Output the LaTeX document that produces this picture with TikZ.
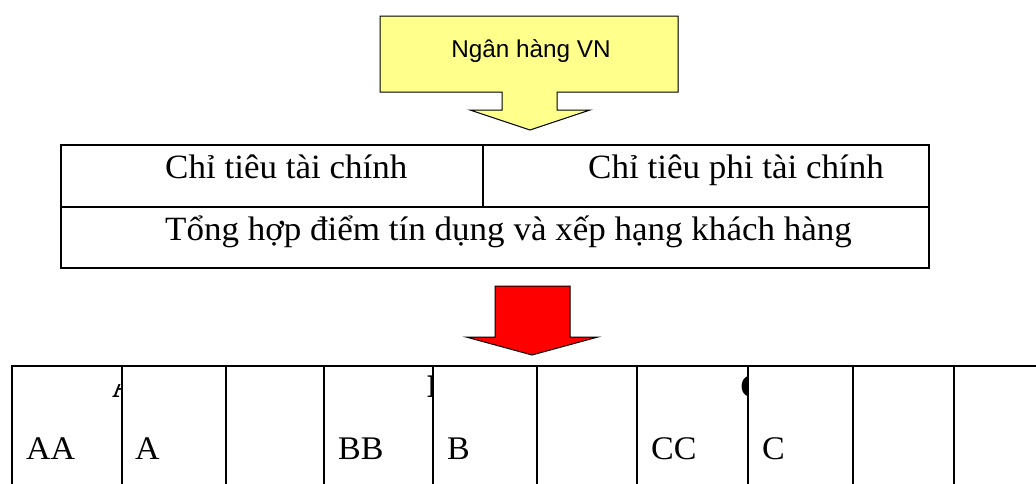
\documentclass[tikz,border=0pt]{standalone}
\usepackage{fontspec}
\newfontfamily\tnr{Liberation Serif}[FakeStretch=1.03]
\newfontfamily\arl{Liberation Sans}
\definecolor{paleyellow}{RGB}{255,255,140}
\begin{document}
\begin{tikzpicture}[x=1pt,y=-1pt,
  gridline/.style={line width=2pt,line cap=rect},
  midtxt/.style={anchor=base west,inner sep=0pt,font=\tnr\fontsize{34}{36}\selectfont},
  lowtxt/.style={anchor=base west,inner sep=0pt,font=\tnr\fontsize{33}{35}\selectfont},
  hdtxt/.style={anchor=base west,inner sep=0pt,font=\tnr\bfseries\fontsize{33}{35}\selectfont},
  blockarrow/.style={draw=black,line width=1pt,line join=miter}]
\useasboundingbox (0,0) rectangle (1036,483);
% yellow block arrow
\draw[blockarrow,fill=paleyellow] (380,16) -- (678,16) -- (678,92) -- (557,92) -- (557,110)
  -- (590,110) -- (530,130) -- (470,110) -- (502,110) -- (502,92) -- (380,92) -- cycle;
\draw[line width=1.5pt,black!70] (678.5,17) -- (678.5,92);
\node[anchor=base,inner sep=0pt,font=\arl\fontsize{24.3}{26}\selectfont] (bank) at (531,57) {Ngân hàng VN};
% middle table
\coordinate (m1) at (61,145);
\coordinate (m2) at (929,268);
\draw[gridline] (m1) rectangle (m2);
\draw[gridline] (61,207) -- (929,207);
\draw[gridline] (483,145) -- (483,207);
\node[midtxt] (fin) at (165,178) {Chỉ tiêu tài chính};
\node[midtxt] (nonfin) at (588,178) {Chỉ tiêu phi tài chính};
\node[midtxt] (sum) at (165,240) {Tổng hợp điểm tín dụng và xếp hạng khách hàng};
% red block arrow
\draw[blockarrow,fill=red] (495,286) -- (570,286) -- (570,337) -- (598,337) -- (532,355)
  -- (466,337) -- (495,337) -- cycle;
% bottom table
\draw[gridline] (12,366) -- (1040,366);
\foreach \xx in {12,122,226,324,433,537,637,748,853,954}
  \draw[gridline] (\xx,366) -- (\xx,490);
\begin{scope}
  \clip (12,384) rectangle (121,398);
  \node[hdtxt] (hA) at (112,397) {A};
\end{scope}
\begin{scope}
  \clip (324,367) rectangle (432,398);
  \node[hdtxt] (hB) at (427,397) {B};
\end{scope}
\begin{scope}
  \clip (637,367) rectangle (747,398);
  \node[hdtxt] (hC) at (740,397) {C};
\end{scope}
\node[lowtxt] (aa) at (26,459) {AA};
\node[lowtxt] (a) at (135,459) {A};
\node[lowtxt] (bb) at (338,459) {BB};
\node[lowtxt] (b) at (447,459) {B};
\node[lowtxt] (cc) at (651,459) {CC};
\node[lowtxt] (c) at (762,459) {C};
\end{tikzpicture}
\end{document}
